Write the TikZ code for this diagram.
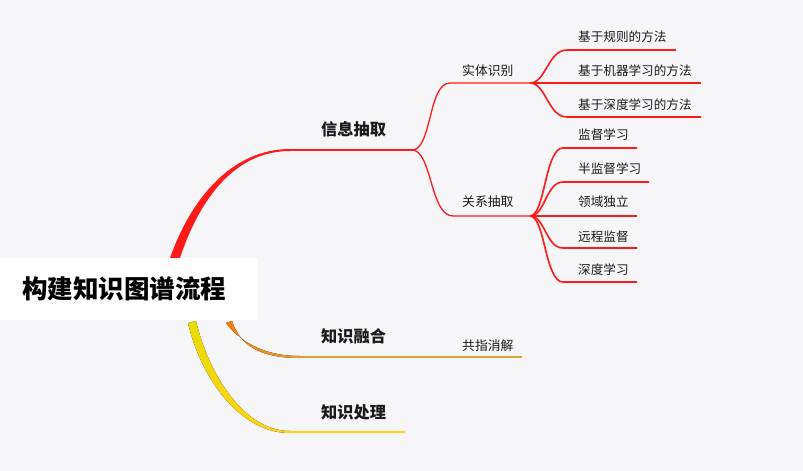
\documentclass[tikz,border=0pt]{standalone}
\usepackage{fontspec}
\setmainfont{Noto Sans CJK SC}
\newfontfamily\cjk{Noto Sans CJK SC}
\definecolor{bgc}{HTML}{F6F6F8}
\definecolor{lred}{HTML}{FF1A1A}
\definecolor{oA}{HTML}{FF7A00}
\definecolor{oB}{HTML}{DCA23A}
\definecolor{yA}{HTML}{E8DC00}
\definecolor{yB}{HTML}{FFD21A}
\definecolor{txt}{HTML}{1A1A1A}
\tikzset{
  rootbox/.style={fill=white, anchor=west, inner xsep=22pt, inner ysep=0pt, text width=214pt, minimum height=62pt, align=left, font=\cjk\bfseries\fontsize{25.5}{28}\selectfont, text=black},
  mainlab/.style={anchor=west, inner sep=0pt, font=\cjk\bfseries\fontsize{16.2}{18}\selectfont, text=txt},
  sublab/.style={anchor=west, inner sep=0pt, font=\cjk\fontsize{12.8}{14}\selectfont, text=txt},
  leaflab/.style={anchor=west, inner sep=0pt, font=\cjk\fontsize{12.6}{14}\selectfont, text=txt},
  redline/.style={draw=lred, line width=1.6pt},
  subline/.style={draw=lred, line width=1.3pt},
}
\begin{document}
\begin{tikzpicture}[x=1pt,y=-1pt]
\fill[bgc] (0,0) rectangle (803,471);
\useasboundingbox (0,0) rectangle (803,471);

% coordinates
\coordinate (b1s) at (173,262);
\coordinate (b1e) at (290,150);
\coordinate (b1j) at (412,150);
\coordinate (b2s) at (229,322);
\coordinate (b2e) at (300,357);
\coordinate (b2j) at (412,357);
\coordinate (b2end) at (522,357);
\coordinate (b3s) at (192,322);
\coordinate (b3e) at (290,432);
\coordinate (b3end) at (405,432);

\coordinate (es) at (450,83);
\coordinate (ej) at (530,83);
\coordinate (gs) at (453,216);
\coordinate (gj) at (530,216);

\coordinate (e1s) at (567,50);  \coordinate (e1e) at (676,50);
\coordinate (e2e) at (701,83);
\coordinate (e3s) at (567,117); \coordinate (e3e) at (701,117);

\coordinate (g1s) at (563,148); \coordinate (g1e) at (637,148);
\coordinate (g2s) at (563,182); \coordinate (g2e) at (649,182);
\coordinate (g3e) at (637,216);
\coordinate (g4s) at (563,248); \coordinate (g4e) at (637,248);
\coordinate (g5s) at (563,282); \coordinate (g5e) at (637,282);

% branch 1 (red, tapered)
\fill[lred] (168,264) .. controls (191,194) and (235,149) .. (290,149)
  -- (290,151) .. controls (236,151) and (199,197) .. (178,264) -- cycle;
\draw[redline] (b1e) -- (b1j);
% branch 2 (orange)
\fill[left color=oA, right color=oB] (226,323) .. controls (243,345) and (268,356) .. (300,356)
  -- (300,358) .. controls (266,358) and (241,349) .. (232,321) -- cycle;
\draw[draw=oB, line width=1.8pt] (b2e) -- (b2end);
% branch 3 (yellow)
\fill[top color=yA, bottom color=yB] (188,323) .. controls (200,375) and (238,433) .. (290,433)
  -- (290,431) .. controls (243,431) and (208,372) .. (196,321) -- cycle;
\draw[draw=yB, line width=1.8pt] (b3e) -- (b3end);

% sub branches
\draw[subline] (b1j) .. controls (432,150) and (428,83) .. (es) -- (ej);
\draw[subline] (b1j) .. controls (432,150) and (430,216) .. (gs) -- (gj);

% leaves of entity recognition
\draw[redline] (ej) .. controls (546,83) and (548,50) .. (e1s) -- (e1e);
\draw[redline] (ej) -- (e2e);
\draw[redline] (ej) .. controls (546,83) and (548,117) .. (e3s) -- (e3e);

% leaves of relation extraction
\draw[redline] (gj) .. controls (545,216) and (545,148) .. (g1s) -- (g1e);
\draw[redline] (gj) .. controls (545,216) and (546,182) .. (g2s) -- (g2e);
\draw[redline] (gj) -- (g3e);
\draw[redline] (gj) .. controls (545,216) and (546,248) .. (g4s) -- (g4e);
\draw[redline] (gj) .. controls (545,216) and (545,282) .. (g5s) -- (g5e);

% root
\node[rootbox] (root) at (0,289) {构建知识图谱流程};

% labels
\node[mainlab] (xx) at (321,129) {信息抽取};
\node[mainlab] (rh) at (321,336) {知识融合};
\node[mainlab] (cl) at (321,412) {知识处理};
\node[sublab] (st) at (462,71) {实体识别};
\node[sublab] (gx) at (462,202) {关系抽取};
\node[sublab] (gz) at (462,346) {共指消解};

\node[leaflab] (l1) at (578,37) {基于规则的方法};
\node[leaflab] (l2) at (578,71) {基于机器学习的方法};
\node[leaflab] (l3) at (578,105) {基于深度学习的方法};
\node[leaflab] (m1) at (578,135) {监督学习};
\node[leaflab] (m2) at (578,169) {半监督学习};
\node[leaflab] (m3) at (578,202) {领域独立};
\node[leaflab] (m4) at (578,237) {远程监督};
\node[leaflab] (m5) at (578,270) {深度学习};
\end{tikzpicture}
\end{document}
